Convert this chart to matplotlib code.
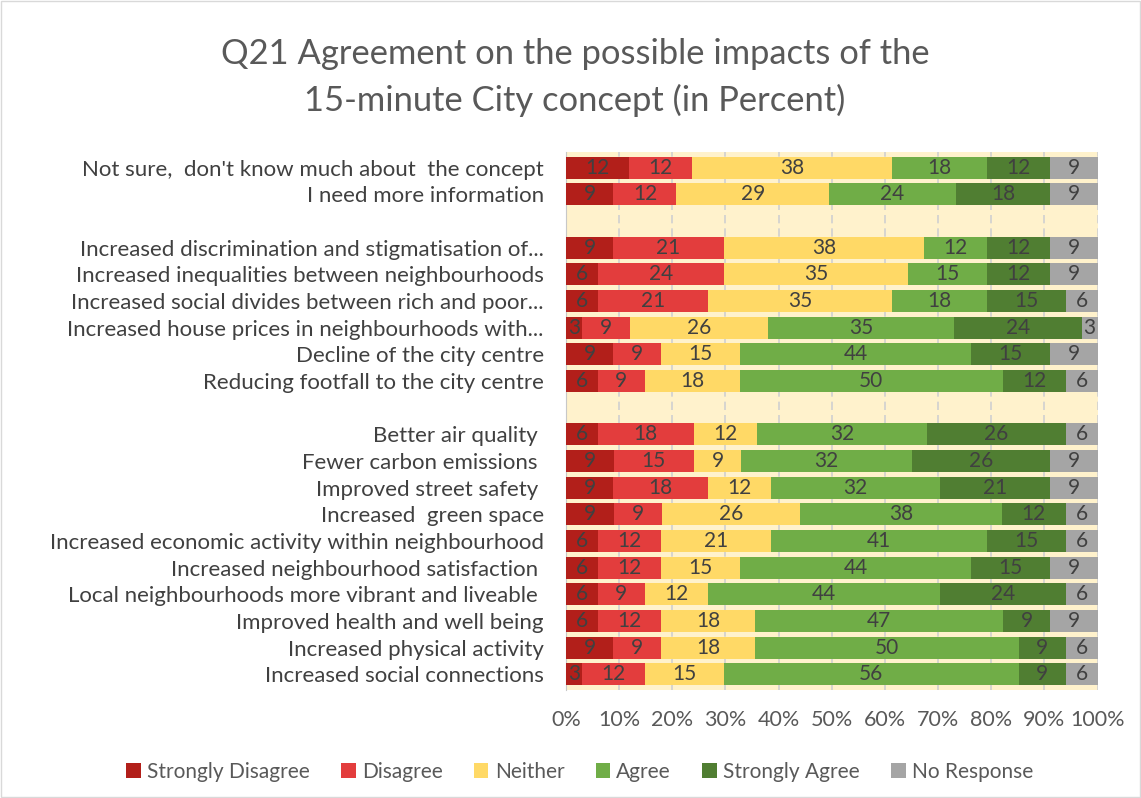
import numpy as np
import matplotlib.pyplot as plt
from matplotlib.patches import Rectangle

plt.rcParams['font.family'] = ['Lato', 'DejaVu Sans']

categories = [
    "Not sure,  don't know much about  the concept",
    "I need more information",
    "",
    "Increased discrimination and stigmatisation of...",
    "Increased inequalities between neighbourhoods",
    "Increased social divides between rich and poor...",
    "Increased house prices in neighbourhoods with...",
    "Decline of the city centre",
    "Reducing footfall to the city centre",
    "",
    "Better air quality ",
    "Fewer carbon emissions ",
    "Improved street safety ",
    "Increased  green space",
    "Increased economic activity within neighbourhood",
    "Increased neighbourhood satisfaction ",
    "Local neighbourhoods more vibrant and liveable ",
    "Improved health and well being",
    "Increased physical activity",
    "Increased social connections",
]

series = ["Strongly Disagree", "Disagree", "Neither", "Agree", "Strongly Agree", "No Response"]
colors = ["#B21F1A", "#E33D3D", "#FFD966", "#70AD47", "#507E32", "#A5A5A5"]

# percentages as shown in the labels (None = blank spacer row)
strongly_disagree = [12, 9, None, 9, 6, 6, 3, 9, 6, None, 6, 9, 9, 9, 6, 6, 6, 6, 9, 3]
disagree          = [12, 12, None, 21, 24, 21, 9, 9, 9, None, 18, 15, 18, 9, 12, 12, 9, 12, 9, 12]
neither           = [38, 29, None, 38, 35, 35, 26, 15, 18, None, 12, 9, 12, 26, 21, 15, 12, 18, 18, 15]
agree             = [18, 24, None, 12, 15, 18, 35, 44, 50, None, 32, 32, 32, 38, 41, 44, 44, 47, 50, 56]
strongly_agree    = [12, 18, None, 12, 12, 15, 24, 15, 12, None, 26, 26, 21, 12, 15, 15, 24, 9, 9, 9]
no_response       = [9, 9, None, 9, 9, 6, 3, 9, 6, None, 6, 9, 9, 6, 6, 9, 6, 9, 6, 6]

data = [strongly_disagree, disagree, neither, agree, strongly_agree, no_response]

fig = plt.figure(figsize=(11.41, 7.98), dpi=100)
fig.patches.append(Rectangle((0.001, 0.001), 0.998, 0.998, transform=fig.transFigure,
                             fill=False, edgecolor="#D9D9D9", linewidth=1))
ax = fig.add_axes([0.496, 0.135, 0.466, 0.675])
ax.set_facecolor("#FFF2CC")

n = len(categories)
y = np.arange(n)
vals = np.array([[np.nan if v is None else v for v in s] for s in data], dtype=float)
totals = np.nansum(vals, axis=0)
totals[totals == 0] = 1
frac = vals / totals

left = np.zeros(n)
for i, name in enumerate(series):
    w = np.nan_to_num(frac[i])
    ax.barh(y, w, left=left, height=0.82, color=colors[i], label=name, zorder=3)
    for j in range(n):
        if not np.isnan(vals[i, j]):
            ax.text(left[j] + w[j] / 2, y[j], "%d" % vals[i, j], ha="center", va="center",
                    fontsize=15, color="#404040", zorder=4)
    left += w

ax.set_xlim(0, 1)
ax.set_ylim(n - 0.4, -0.6)
ax.set_yticks(y)
ax.set_yticklabels(categories, fontsize=16, color="#404040")
ax.set_xticks(np.linspace(0, 1, 11))
ax.set_xticklabels(["%d%%" % (v * 10) for v in range(11)], fontsize=15.5, color="#595959")
ax.tick_params(axis="both", length=0)
ax.tick_params(axis="x", pad=14)
ax.tick_params(axis="y", pad=16)
ax.grid(axis="x", color="#D0D0D0", linestyle=(0, (5, 3)), linewidth=1.2, zorder=0)
for s in ["top", "right", "bottom"]:
    ax.spines[s].set_visible(False)
ax.spines["left"].set_color("#C8C8C8")

fig.text(0.504, 0.932, "Q21 Agreement on the possible impacts of the", ha="center", va="center",
         fontsize=24.8, color="#595959")
fig.text(0.504, 0.874, "15-minute City concept (in Percent)", ha="center", va="center",
         fontsize=24.8, color="#595959")

fig.legend(loc="center", bbox_to_anchor=(0.508, 0.033), ncol=6, frameon=False,
           fontsize=15, handlelength=0.7, handleheight=0.7, columnspacing=1.5,
           handletextpad=0.3, labelcolor="#595959")

fig.savefig("out.png", dpi=100)
